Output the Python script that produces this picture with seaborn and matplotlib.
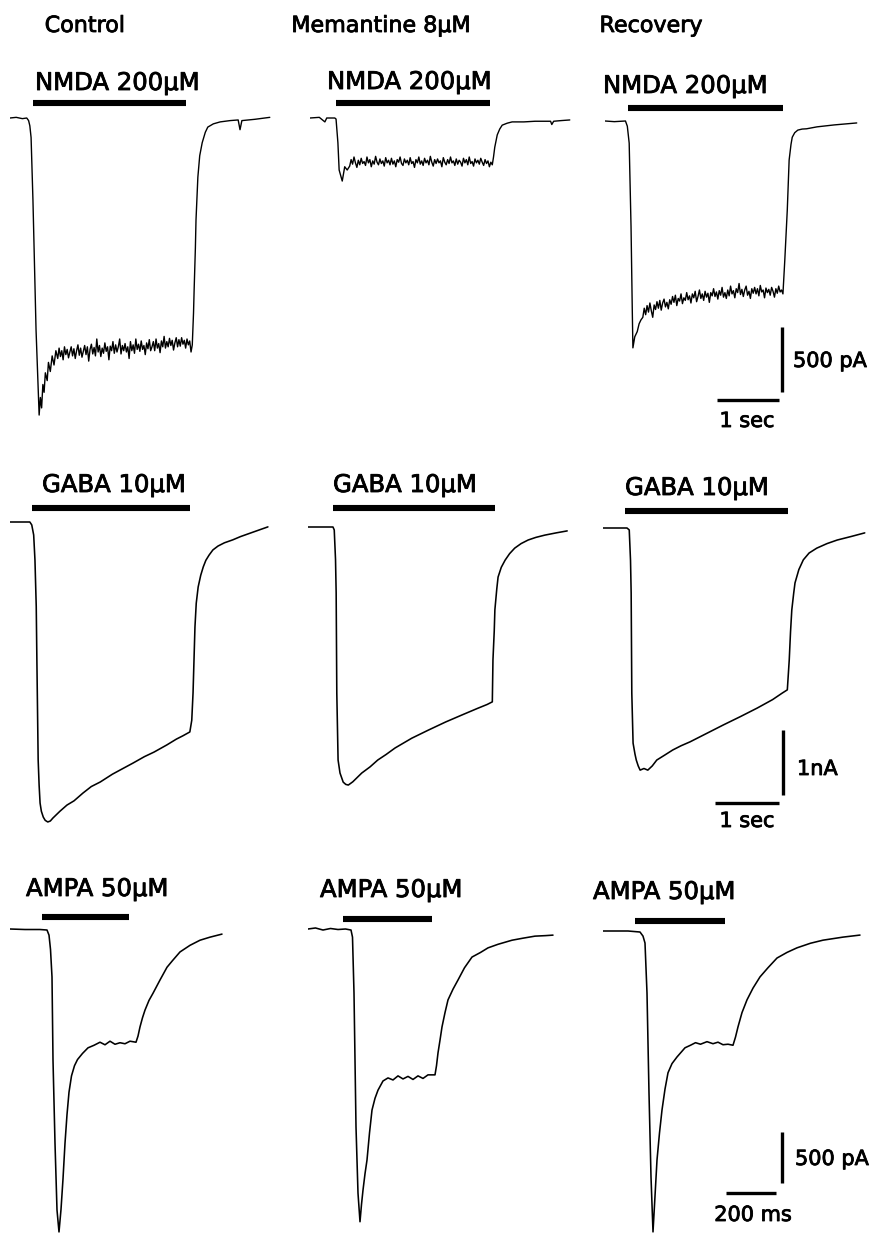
import numpy as np
import pandas as pd
import matplotlib
matplotlib.use("Agg")
import matplotlib.pyplot as plt
import matplotlib.patheffects as pe
import seaborn as sns

sns.set_theme(style="white")
plt.rcParams['font.family'] = ['DejaVu Sans']

# ------------------------------------------------------------------ data
COLUMNS = ["Control", "Memantine 8μM", "Recovery"]
ROW_DRUGS = ["NMDA 200μM", "GABA 10μM", "AMPA 50μM"]

# ---- NMDA 200 uM (time s, current pA)
nmda_ctrl_on_t = [0, 0.10, 0.20, 0.27, 0.30, 0.32, 0.34, 0.37, 0.42, 0.47, 0.49, 0.51, 0.53, 0.55, 0.57, 0.60, 0.62, 0.65, 0.68, 0.71, 0.74]
nmda_ctrl_on_i = [0, 5, -5, 0, -20, -60, -150, -630, -1630, -2285, -2150, -2230, -2050, -2110, -1960, -2020, -1880, -1950, -1830, -1900, -1790]
nmda_ctrl_plat_span = (0.77, 2.92)
nmda_ctrl_plat_i = [-1850, -1770, -1835, -1790, -1860, -1760, -1820, -1780, -1845, -1800,
                    -1760, -1830, -1775, -1850, -1790, -1745, -1825, -1770, -1840, -1795,
                    -1750, -1820, -1760, -1870, -1780, -1740, -1815, -1765, -1830, -1700,
                    -1800, -1750, -1835, -1770, -1810, -1730, -1795, -1760, -1860, -1755,
                    -1790, -1720, -1810, -1745, -1800, -1760, -1700, -1815, -1750, -1790,
                    -1735, -1800, -1760, -1850, -1720, -1790, -1745, -1810, -1700, -1780,
                    -1740, -1795, -1715, -1780, -1750, -1820, -1730, -1775, -1705, -1790,
                    -1760, -1720, -1790, -1700, -1770, -1735, -1805, -1715, -1760, -1680,
                    -1770, -1720, -1760, -1695, -1750, -1710, -1785, -1730, -1690, -1760,
                    -1705, -1755, -1690, -1740, -1710, -1770, -1700, -1745, -1715, -1800]
nmda_ctrl_off_t = [2.94, 2.96, 2.97, 2.99, 3.00, 3.03, 3.06, 3.10, 3.15, 3.19, 3.28, 3.39, 3.55, 3.68, 3.71, 3.74, 3.95, 4.19]
nmda_ctrl_off_i = [-1745, -1500, -1320, -1000, -785, -455, -290, -190, -110, -70, -45, -30, -20, -15, -90, -20, -10, 5]

nmda_mem_on_t = [0, 0.15, 0.24, 0.27, 0.40, 0.42, 0.45, 0.47, 0.52, 0.56, 0.60]
nmda_mem_on_i = [0, 5, -30, 0, 0, -8, -190, -400, -485, -375, -400]
nmda_mem_plat_span = (0.64, 2.94)
nmda_mem_plat_i = [-370, -320, -355, -300, -345, -380, -325, -360, -310, -350,
                   -335, -365, -300, -345, -320, -375, -330, -355, -295, -340,
                   -360, -315, -350, -330, -370, -305, -345, -325, -360, -310,
                   -355, -330, -375, -320, -340, -300, -350, -365, -315, -345,
                   -325, -360, -305, -350, -335, -380, -320, -345, -300, -355,
                   -330, -365, -310, -345, -325, -360, -295, -340, -370, -320,
                   -350, -315, -345, -330, -375, -305, -340, -360, -320, -350,
                   -300, -345, -330, -365, -315, -355, -325, -340, -370, -310,
                   -345, -320, -360, -300, -350, -335, -370, -315, -345, -325,
                   -355, -310, -340, -365, -320, -350, -330, -375, -340, -360]
nmda_mem_off_t = [2.96, 2.98, 3.02, 3.06, 3.10, 3.18, 3.26, 3.45, 3.63, 3.88, 3.90, 3.93, 4.05, 4.19]
nmda_mem_off_i = [-300, -225, -130, -85, -55, -40, -30, -30, -25, -25, -50, -25, -20, -15]

nmda_rec_on_t = [0, 0.15, 0.33, 0.36, 0.39, 0.42, 0.44, 0.45, 0.48, 0.52, 0.55, 0.58]
nmda_rec_on_i = [0, -5, 0, -40, -170, -815, -1455, -1745, -1660, -1620, -1560, -1530]
nmda_rec_plat_span = (0.61, 2.87)
nmda_rec_plat_i = [-1510, -1440, -1490, -1420, -1470, -1400, -1460, -1510, -1415, -1450,
                   -1390, -1440, -1380, -1455, -1400, -1370, -1430, -1395, -1445, -1375,
                   -1410, -1350, -1395, -1340, -1420, -1365, -1385, -1330, -1405, -1360,
                   -1380, -1320, -1375, -1345, -1400, -1330, -1360, -1310, -1390, -1350,
                   -1300, -1365, -1330, -1380, -1310, -1355, -1325, -1395, -1320, -1345,
                   -1290, -1350, -1315, -1370, -1305, -1340, -1280, -1355, -1320, -1365,
                   -1300, -1345, -1270, -1330, -1305, -1360, -1290, -1320, -1250, -1335,
                   -1295, -1350, -1300, -1270, -1340, -1310, -1365, -1290, -1325, -1280,
                   -1330, -1290, -1345, -1265, -1315, -1300, -1360, -1285, -1320, -1295,
                   -1340, -1280, -1310, -1355, -1290, -1325, -1270, -1315, -1300, -1330]
nmda_rec_off_t = [2.90, 2.94, 2.97, 3.00, 3.02, 3.06, 3.11, 3.18, 3.25, 3.42, 3.70, 4.06]
nmda_rec_off_i = [-1070, -685, -300, -180, -125, -90, -70, -62, -60, -45, -30, -15]

nmda_bars = [(0.37, 2.84), (0.42, 2.90), (0.37, 2.87)]   # application (s)

# ---- GABA 10 uM
gaba_ctrl_t = [0, 0.31, 0.34, 0.37, 0.39, 0.41, 0.42, 0.44, 0.455, 0.47,
               0.49, 0.52, 0.55, 0.59, 0.63, 0.67, 0.78, 0.89, 1.00, 1.14,
               1.27, 1.41, 1.60, 1.75, 1.92, 2.10, 2.25, 2.45, 2.60, 2.70,
               2.81, 2.84, 2.86, 2.89, 2.91, 2.94, 2.98, 3.02, 3.06, 3.11,
               3.17, 3.25, 3.35, 3.48, 3.60, 3.80, 3.90, 4.03]
gaba_ctrl_i = [0, 0, -45, -200, -585, -1300, -2125, -3660, -4050, -4325,
               -4450, -4540, -4590, -4615, -4600, -4555, -4450, -4355, -4290, -4170,
               -4070, -4000, -3880, -3800, -3710, -3610, -3540, -3430, -3340, -3290,
               -3230, -3050, -2630, -1615, -1250, -1000, -820, -690, -590, -510,
               -430, -370, -320, -275, -225, -155, -120, -75]
gaba_mem_t = [0, 0.39, 0.41, 0.43, 0.44, 0.45, 0.47, 0.50, 0.55, 0.59,
              0.63, 0.70, 0.84, 0.97, 1.09, 1.22, 1.36, 1.62, 1.88, 2.15,
              2.41, 2.65, 2.80, 2.88, 2.89, 2.91, 2.92, 2.95, 2.97, 3.02,
              3.08, 3.15, 3.23, 3.33, 3.44, 3.56, 3.70, 3.88, 4.05]
gaba_mem_i = [0, 0, -45, -500, -1015, -2555, -3585, -3785, -3925, -3960,
              -3970, -3920, -3785, -3690, -3585, -3500, -3400, -3250, -3125, -3000,
              -2890, -2790, -2730, -2690, -2045, -1600, -1275, -950, -770, -620,
              -510, -410, -325, -255, -200, -160, -125, -90, -60]
gaba_rec_t = [0, 0.375, 0.41, 0.43, 0.44, 0.45, 0.47, 0.50, 0.52, 0.55,
              0.58, 0.64, 0.70, 0.77, 0.84, 0.97, 1.09, 1.22, 1.36, 1.62,
              1.88, 2.15, 2.41, 2.65, 2.80, 2.88, 2.91, 2.93, 2.95, 2.98,
              3.00, 3.06, 3.13, 3.22, 3.34, 3.50, 3.66, 3.88, 4.09]
gaba_rec_i = [0, 0, -30, -500, -1000, -2540, -3310, -3480, -3570, -3660,
              -3725, -3700, -3725, -3660, -3570, -3490, -3415, -3350, -3290, -3160,
              -3030, -2900, -2770, -2640, -2540, -2490, -2030, -1600, -1260, -1000,
              -845, -640, -490, -385, -310, -240, -185, -130, -75]
gaba_bars = [(0.34, 2.81), (0.39, 2.92), (0.34, 2.89)]

# ---- AMPA 50 uM
ampa_ctrl_t = [0, 0.06, 0.12, 0.148, 0.156, 0.162, 0.168, 0.172, 0.180, 0.188,
               0.196, 0.204, 0.212, 0.220, 0.228, 0.236, 0.246, 0.258, 0.270, 0.290,
               0.312, 0.336, 0.360, 0.380, 0.400, 0.420, 0.440, 0.460, 0.480, 0.504,
               0.512, 0.520, 0.530, 0.540, 0.556, 0.572, 0.600, 0.628, 0.650, 0.680,
               0.720, 0.760, 0.800, 0.848]
ampa_ctrl_i = [0, -5, -5, -10, -60, -200, -470, -1285, -2100, -2755,
               -2970, -2750, -2450, -2100, -1820, -1600, -1440, -1340, -1280, -1220,
               -1165, -1140, -1110, -1135, -1100, -1130, -1115, -1125, -1100, -1110,
               -1050, -960, -870, -795, -700, -630, -500, -375, -310, -225,
               -160, -110, -80, -50]
ampa_mem_t = [0, 0.03, 0.06, 0.09, 0.12, 0.15, 0.172, 0.178, 0.184, 0.192,
              0.200, 0.208, 0.214, 0.220, 0.228, 0.236, 0.246, 0.256, 0.268, 0.280,
              0.300, 0.320, 0.340, 0.360, 0.380, 0.400, 0.420, 0.440, 0.460, 0.480,
              0.508, 0.514, 0.520, 0.528, 0.536, 0.548, 0.560, 0.580, 0.600, 0.626,
              0.656, 0.690, 0.720, 0.760, 0.816, 0.860, 0.908, 0.950, 0.980]
ampa_mem_i = [0, 10, -10, 5, -5, 0, -10, -80, -627, -1940,
              -2590, -2870, -2700, -2560, -2400, -2265, -2000, -1775, -1660, -1580,
              -1490, -1460, -1480, -1440, -1470, -1445, -1475, -1440, -1465, -1430,
              -1430, -1340, -1215, -1090, -960, -820, -695, -590, -500, -380,
              -275, -230, -185, -150, -110, -90, -70, -65, -60]
ampa_rec_t = [0, 0.05, 0.10, 0.148, 0.160, 0.168, 0.176, 0.184, 0.192, 0.200,
              0.208, 0.216, 0.226, 0.236, 0.248, 0.260, 0.276, 0.296, 0.328, 0.350,
              0.370, 0.390, 0.416, 0.440, 0.460, 0.480, 0.500, 0.520, 0.530, 0.540,
              0.556, 0.576, 0.600, 0.628, 0.660, 0.696, 0.736, 0.776, 0.830, 0.880,
              0.960, 1.028]
ampa_rec_i = [0, 0, 0, -10, -50, -118, -608, -1590, -2410, -2950,
              -2600, -2245, -1980, -1755, -1550, -1390, -1300, -1235, -1145, -1120,
              -1095, -1110, -1085, -1105, -1090, -1115, -1110, -1120, -1040, -940,
              -800, -675, -560, -450, -360, -265, -210, -165, -120, -90,
              -60, -40]
ampa_bars = [(0.128, 0.476), (0.14, 0.496), (0.128, 0.488)]

# scale bars: (amplitude pA, duration s)
scale_sizes = [(500, 1.0), (1000, 1.0), (500, 0.2)]
scale_texts = [("500 pA", "1 sec"), ("1nA", "1 sec"), ("500 pA", "200 ms")]


def nmda_trace(on_t, on_i, span, plat_i, off_t, off_i):
    plat_t = np.linspace(span[0], span[1], len(plat_i))
    t = np.concatenate([on_t, plat_t, off_t])
    i = np.concatenate([on_i, plat_i, off_i])
    return t, i


traces = [
    [nmda_trace(nmda_ctrl_on_t, nmda_ctrl_on_i, nmda_ctrl_plat_span, nmda_ctrl_plat_i, nmda_ctrl_off_t, nmda_ctrl_off_i),
     nmda_trace(nmda_mem_on_t, nmda_mem_on_i, nmda_mem_plat_span, nmda_mem_plat_i, nmda_mem_off_t, nmda_mem_off_i),
     nmda_trace(nmda_rec_on_t, nmda_rec_on_i, nmda_rec_plat_span, nmda_rec_plat_i, nmda_rec_off_t, nmda_rec_off_i)],
    [(gaba_ctrl_t, gaba_ctrl_i), (gaba_mem_t, gaba_mem_i), (gaba_rec_t, gaba_rec_i)],
    [(ampa_ctrl_t, ampa_ctrl_i), (ampa_mem_t, ampa_mem_i), (ampa_rec_t, ampa_rec_i)],
]
bars = [nmda_bars, gaba_bars, ampa_bars]

# ------------------------------------------------------------------ layout (pixels)
FW, FH = 873, 1236
fig = plt.figure(figsize=(FW / 100, FH / 100), dpi=100)
fig.patch.set_facecolor("white")

# per row: px per second, px per pA, panel origins (x of t=0, y of I=0)
row_sx = [62, 64, 250]
row_sy = [0.13, 0.065, 0.102]
row_lw = [1.0, 1.15, 1.15]
row_x0 = [[10, 310, 605], [10, 308, 603], [10, 308, 603]]
row_y0 = [[118, 118, 121], [522, 527, 528], [929, 929, 931]]
bar_up_px = [[15, 15, 13], [14, 19, 17], [12, 10, 10]]
label_pos = [[(35, 90), (327, 89), (603, 93)],
             [(42, 492), (333, 492), (625, 495)],
             [(26, 896), (320, 897), (593, 899)]]
scale_vbar = [(782, 327, 392), (783, 730, 795), (782, 1132, 1183)]   # x, ytop, ybottom
scale_hbar = [(717, 400), (715, 803), (726, 1193)]                    # xstart, y
scale_vtext = [(793, 367), (797, 775), (795, 1165)]
scale_htext = [(747, 427), (747, 827), (753, 1221)]
title_pos = [(85, 32), (381, 32), (651, 32)]

ink = [pe.withStroke(linewidth=0.6, foreground="black")]


def fx(x):
    return x / FW


def fy(y):
    return 1 - y / FH


def panel_axes(x0, y0, sx, sy, w=266, up=70, down=312):
    down = min(down, FH - y0)
    ax = fig.add_axes([fx(x0), fy(y0 + down), w / FW, (up + down) / FH])
    ax.set_facecolor("none")
    return ax, (0, w / sx), (-down / sy, up / sy)


for c, title in enumerate(COLUMNS):
    fig.text(fx(title_pos[c][0]), fy(title_pos[c][1]), title, ha="center", va="baseline",
             fontsize=16, color="black", path_effects=ink)

for r in range(3):
    sx, sy = row_sx[r], row_sy[r]
    for c in range(3):
        ax, xl, yl = panel_axes(row_x0[r][c], row_y0[r][c], sx, sy)
        t, i = traces[r][c]
        df = pd.DataFrame({"t": np.asarray(t, float), "I": np.asarray(i, float)})
        sns.lineplot(data=df, x="t", y="I", ax=ax, color="black", lw=row_lw[r],
                     estimator=None, sort=False, legend=False)
        # drug application bar
        b0, b1 = bars[r][c]
        yb = bar_up_px[r][c] / sy
        ax.plot([b0, b1], [yb, yb], color="black", lw=4.4, solid_capstyle="butt")
        lx, ly = label_pos[r][c]
        fig.text(fx(lx), fy(ly), ROW_DRUGS[r], ha="left", va="baseline", fontsize=17.5,
                 color="black", path_effects=ink)
        if c == 2:
            amp, dur = scale_sizes[r]
            vx, vt, vb = scale_vbar[r]
            hx, hy = scale_hbar[r]
            x0, y0 = row_x0[r][c], row_y0[r][c]
            tv = (vx - x0) / sx
            itop = -(vt - y0) / sy
            ax.plot([tv, tv], [itop, itop - amp], color="black", lw=2.4, solid_capstyle="butt")
            th = (hx - x0) / sx
            ih = -(hy - y0) / sy
            ax.plot([th, th + dur], [ih, ih], color="black", lw=2.4, solid_capstyle="butt")
            fig.text(fx(scale_vtext[r][0]), fy(scale_vtext[r][1]), scale_texts[r][0],
                     ha="left", va="baseline", fontsize=15, color="black", path_effects=ink)
            fig.text(fx(scale_htext[r][0]), fy(scale_htext[r][1]), scale_texts[r][1],
                     ha="center", va="baseline", fontsize=15, color="black", path_effects=ink)
        ax.set_xlim(*xl)
        ax.set_ylim(*yl)
        ax.axis("off")

fig.savefig("out.png", dpi=100, facecolor="white")
